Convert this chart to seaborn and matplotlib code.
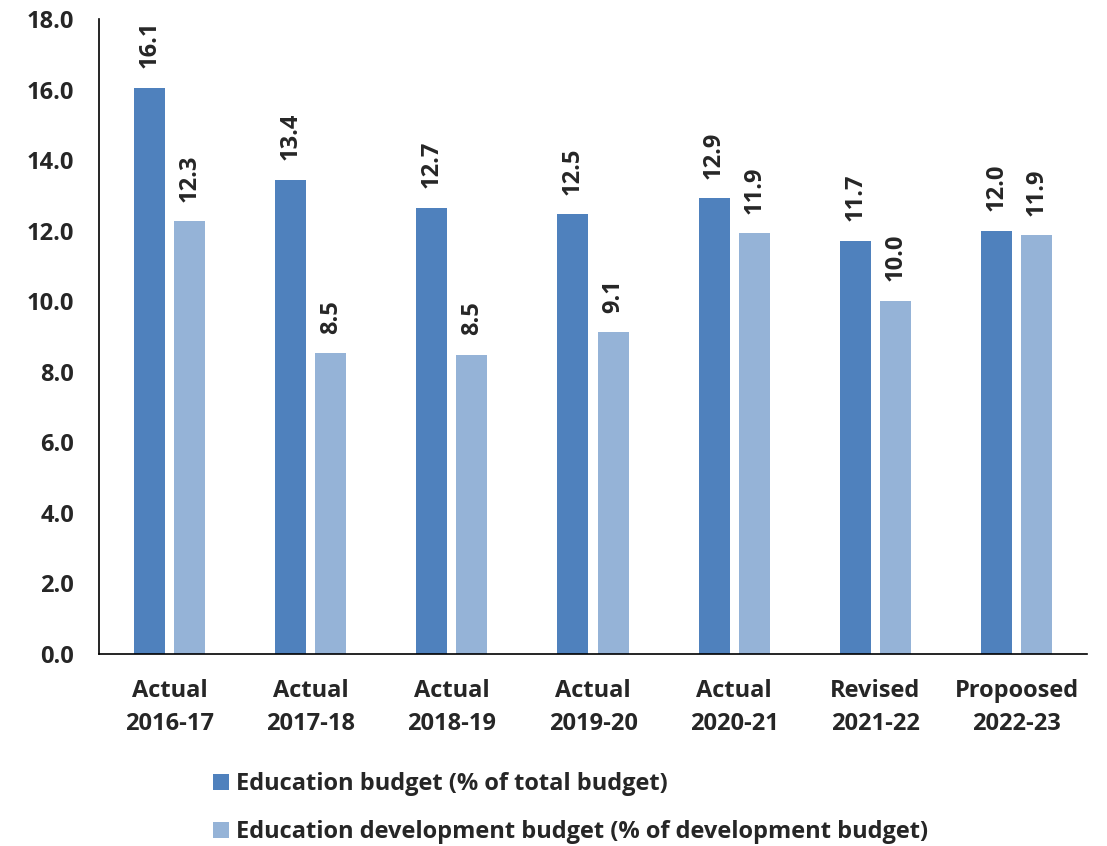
import matplotlib
matplotlib.use("Agg")
import matplotlib.pyplot as plt
import seaborn as sns
import pandas as pd
from matplotlib.patches import Patch

periods = ["Actual\n2016-17", "Actual\n2017-18", "Actual\n2018-19", "Actual\n2019-20",
           "Actual\n2020-21", "Revised\n2021-22", "Propoosed\n2022-23"]
edu_total = [16.05, 13.45, 12.65, 12.47, 12.92, 11.72, 12.00]
edu_dev = [12.27, 8.53, 8.48, 9.12, 11.92, 10.01, 11.87]
series_names = ["Education budget (% of total budget)",
                "Education development budget (% of development budget)"]
colors = ["#4F81BD", "#95B3D7"]

df = pd.DataFrame({
    "period": periods * 2,
    "value": edu_total + edu_dev,
    "series": [series_names[0]] * len(periods) + [series_names[1]] * len(periods),
})

sns.set_style("white")
plt.rcParams["font.family"] = ["Open Sans", "DejaVu Sans"]
plt.rcParams["font.weight"] = "bold"
FS = 17

fig = plt.figure(figsize=(11.07, 8.46), dpi=100)
ax = fig.add_axes([0.0894, 0.227, 0.8926, 0.7505])

sns.barplot(data=df, x="period", y="value", hue="series", order=periods,
            hue_order=series_names, palette=colors, width=0.57, gap=0.23,
            saturation=1, ax=ax, legend=False, edgecolor="none")

for cont in ax.containers:
    ax.bar_label(cont, fmt="%.1f", rotation=90, padding=14,
                 fontsize=FS, fontweight="bold")

ax.set_ylim(0, 18)
ax.set_xlim(-0.5, len(periods) - 0.5)
ax.set_yticks([i * 2 for i in range(10)])
ax.set_yticklabels([f"{i * 2:.1f}" for i in range(10)])
ax.tick_params(axis="y", length=0, pad=18, labelsize=FS)
ax.tick_params(axis="x", length=0, pad=18, labelsize=FS)
for lbl in ax.get_xticklabels():
    lbl.set_linespacing(1.5)
    lbl.set_fontweight("bold")
for lbl in ax.get_yticklabels():
    lbl.set_fontweight("bold")
ax.set_xlabel("")
ax.set_ylabel("")

for side in ["top", "right"]:
    ax.spines[side].set_visible(False)
for side in ["left", "bottom"]:
    ax.spines[side].set_color("black")
    ax.spines[side].set_linewidth(1.2)

handles = [Patch(facecolor=c, edgecolor="none") for c in colors]
fig.legend(handles, series_names, loc="upper left", bbox_to_anchor=(0.173, 0.112),
           frameon=False, ncol=1, handlelength=0.68, handleheight=0.68,
           handletextpad=0.3, labelspacing=1.0, prop={"size": FS, "weight": "bold"})

fig.savefig("out.png", dpi=100)
